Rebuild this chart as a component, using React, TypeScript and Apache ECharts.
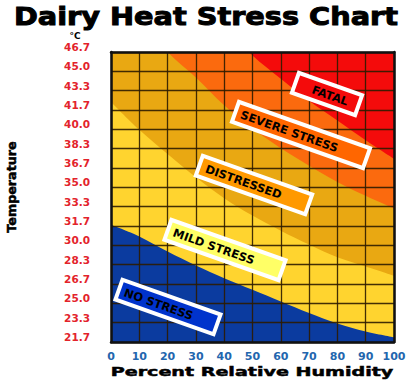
import React, { useEffect, useRef } from 'react';
import * as echarts from 'echarts';

// Relative humidity (%) sampled across the chart
const humidity = [0, 10, 20, 30, 40, 50, 60, 70, 80, 90, 100];

// Y tick labels (°C), bottom to top
const tempTickLabels = ['21.7', '23.3', '25.0', '26.7', '28.3', '30.0', '31.7', '33.3', '35.0', '36.7', '38.3', '40.0', '41.7', '43.3', '45.0', '46.7'];

// Zone upper boundaries (°C) at each humidity value
const noStressTop = [31.8, 30.8, 29.5, 28.3, 27.2, 26.2, 25.2, 24.2, 23.3, 22.6, 22.1];
const mildStressTop = [42.4, 40.0, 37.9, 35.9, 34.1, 32.6, 31.3, 30.1, 29.0, 28.2, 27.4];
const distressedTop = [53.0, 49.7, 46.7, 44.5, 42.1, 40.1, 38.4, 36.9, 35.5, 34.3, 33.2];
const severeTop = [60.0, 57.2, 54.2, 51.4, 48.9, 46.4, 44.4, 42.5, 40.8, 39.1, 37.5];

const zoneNames = ['NO STRESS', 'MILD STRESS', 'DISTRESSED', 'SEVERE STRESS', 'FATAL'];
const zoneAreaColors = ['#0B3B9F', '#FFD42F', '#E9A812', '#FB6A0E', '#F40B0B'];
const zoneBoxColors = ['#0033CC', '#FFFF66', '#FF9900', '#FF6600', '#F40B0B'];

const T_MIN = 21.7;
const T_STEP = 25 / 15;
const toRow = (t: number) => (t - T_MIN) / T_STEP;

// label box layout: [cx, cy, length, textPadLeft]
const boxLayout: number[][] = [
  [168, 307, 104, 6],
  [225, 250, 121, 6],
  [254, 185, 116, 7],
  [301, 135, 139, 6],
  [327, 94, 67, 18],
];

export default function App() {
  const ref = useRef<HTMLDivElement>(null);
  useEffect(() => {
    if (!ref.current) return;
    const chart = echarts.init(ref.current, undefined, { renderer: 'svg' });
    const bounds = [noStressTop, mildStressTop, distressedTop, severeTop];
    const series: any[] = [];
    for (let i = bounds.length - 1; i >= 0; i--) {
      series.push({
        type: 'line',
        name: zoneNames[i],
        data: humidity.map((h, k) => [h, toRow(bounds[i][k])]),
        smooth: 0.35,
        symbol: 'none',
        lineStyle: { width: 0 },
        areaStyle: { color: zoneAreaColors[i], opacity: 1, origin: 'start' },
        silent: true,
      });
    }
    const rot = (-19.5 * Math.PI) / 180;
    const boxH = 21;
    const boxes = zoneNames.map((name, i) => {
      const [cx, cy, len, pad] = boxLayout[i];
      return {
        type: 'group',
        x: cx,
        y: cy,
        rotation: rot,
        z: 100,
        children: [
          {
            type: 'rect',
            z: 100,
            shape: { x: -len / 2, y: -boxH / 2, width: len, height: boxH },
            style: { fill: zoneBoxColors[i], stroke: '#ffffff', lineWidth: 4 },
          },
          {
            type: 'text',
            z: 101,
            style: {
              text: name,
              x: -len / 2 + pad,
              y: 0.5,
              font: 'bold 11.5px "DejaVu Sans"',
              fill: '#000000',
              textAlign: 'left',
              textVerticalAlign: 'middle',
              align: 'left',
              verticalAlign: 'middle',
            },
          },
        ],
      };
    });
    const option: any = {
      animation: false,
      grid: {
        left: 111,
        top: 52,
        width: 283,
        height: 290,
        show: true,
        backgroundColor: zoneAreaColors[4],
        borderWidth: 0,
      },
      xAxis: [
        {
          type: 'value',
          min: 0,
          max: 100,
          interval: 10,
          z: 10,
          axisLine: { show: true, lineStyle: { color: '#111', width: 2.5 } },
          axisTick: { show: false },
          axisLabel: {
            color: '#2366AE',
            fontFamily: 'DejaVu Sans',
            fontWeight: 'bold',
            fontSize: 11,
            margin: 9,
          },
          splitLine: { show: true, lineStyle: { color: 'rgba(45,28,0,0.9)', width: 1.3 } },
        },
        {
          type: 'value',
          position: 'top',
          min: 0,
          max: 100,
          z: 10,
          axisLine: { show: true, onZero: false, lineStyle: { color: '#111', width: 2.5 } },
          axisTick: { show: false },
          axisLabel: { show: false },
          splitLine: { show: false },
        },
      ],
      yAxis: [
        {
          type: 'value',
          min: 0,
          max: 15,
          interval: 1,
          z: 10,
          axisLine: { show: true, lineStyle: { color: '#111', width: 2.5 } },
          axisTick: { show: false },
          axisLabel: {
            color: '#E3232B',
            fontFamily: 'DejaVu Sans',
            fontWeight: 'bold',
            fontSize: 10.5,
            margin: 21,
            verticalAlign: 'bottom',
            lineHeight: 10,
            formatter: (v: number) => tempTickLabels[Math.round(v)] ?? '',
          },
          splitLine: { show: true, lineStyle: { color: 'rgba(45,28,0,0.9)', width: 1.3 } },
        },
        {
          type: 'value',
          position: 'right',
          min: 0,
          max: 15,
          z: 10,
          axisLine: { show: true, onZero: false, lineStyle: { color: '#111', width: 2.5 } },
          axisTick: { show: false },
          axisLabel: { show: false },
          splitLine: { show: false },
        },
      ],
      series,
      graphic: [
        {
          type: 'text',
          x: 206,
          y: 16,
          scaleX: 1.15,
          z: 100,
          style: {
            text: 'Dairy Heat Stress Chart',
            font: 'bold 25px "DejaVu Sans"',
            fill: '#000',
            stroke: '#000',
            lineWidth: 1,
            textAlign: 'center',
            textVerticalAlign: 'middle',
            align: 'center',
            verticalAlign: 'middle',
          },
        },
        {
          type: 'text',
          x: 252,
          y: 372,
          scaleX: 1.47,
          z: 100,
          style: {
            text: 'Percent Relative Humidity',
            font: 'bold 13px "DejaVu Sans"',
            fill: '#000',
            stroke: '#000',
            lineWidth: 0.5,
            textAlign: 'center',
            textVerticalAlign: 'middle',
            align: 'center',
            verticalAlign: 'middle',
          },
        },
        {
          type: 'text',
          x: 12,
          y: 187,
          rotation: Math.PI / 2,
          scaleX: 1.06,
          z: 100,
          style: {
            text: 'Temperature',
            font: 'bold 12px "DejaVu Sans"',
            fill: '#000',
            stroke: '#000',
            lineWidth: 0.5,
            textAlign: 'center',
            textVerticalAlign: 'middle',
            align: 'center',
            verticalAlign: 'middle',
          },
        },
        {
          type: 'text',
          x: 75,
          y: 36,
          z: 100,
          style: {
            text: '°C',
            font: 'bold 9px "DejaVu Sans"',
            fill: '#000',
            textAlign: 'center',
            textVerticalAlign: 'middle',
            align: 'center',
            verticalAlign: 'middle',
          },
        },
        ...boxes,
      ],
    };
    chart.setOption(option);
    return () => chart.dispose();
  }, []);
  return (
    <div
      ref={ref}
      style={{ position: 'fixed', left: 0, top: 0, width: 409, height: 384, background: '#fff' }}
    />
  );
}
